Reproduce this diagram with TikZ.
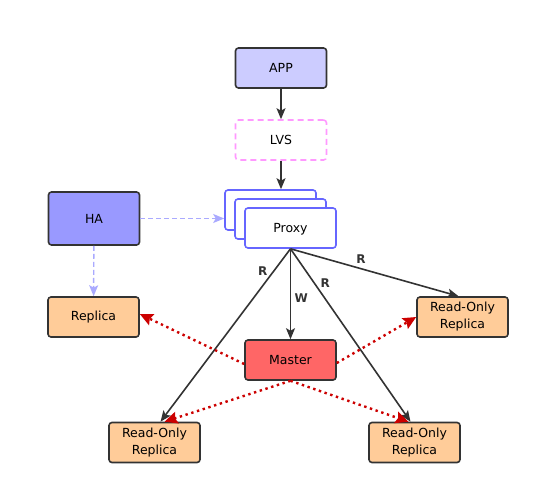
\documentclass[tikz,border=0pt]{standalone}
\usepackage{fontspec}
\setmainfont{DejaVu Sans}
\usetikzlibrary{arrows.meta}

\definecolor{lineGray}{HTML}{333333}
\definecolor{appFill}{HTML}{CCCCFF}
\definecolor{lvsPink}{HTML}{FF99FF}
\definecolor{proxyBlue}{HTML}{6666FF}
\definecolor{haFill}{HTML}{9999FF}
\definecolor{haLine}{HTML}{AAAAFF}
\definecolor{replFill}{HTML}{FFCC99}
\definecolor{masterFill}{HTML}{FF6666}
\definecolor{syncRed}{HTML}{CC0000}

\begin{document}
\begin{tikzpicture}[
                    x=1pt, y=-1pt,
                    >={Stealth[length=11pt,width=9pt,inset=2.5pt]},
                    font=\fontsize{12.5}{17}\selectfont,
                    box/.style={draw=lineGray, line width=1.6pt, rounded corners=3pt,
                                minimum width=91pt, minimum height=40pt,
                                align=center, inner sep=1pt},
                    proxybox/.style={box, draw=proxyBlue, fill=white},
                    flow/.style={->, draw=lineGray, line width=1.6pt},
                    hblink/.style={->, draw=haLine, line width=1.4pt,
                                   dash pattern=on 5pt off 3pt},
                    sync/.style={-{Stealth[length=13pt,width=12pt,inset=2pt]},
                                 draw=syncRed, line width=2.4pt,
                                 dash pattern=on 2.4pt off 3.6pt},
                    rw/.style={font=\fontsize{12}{14}\selectfont\bfseries, text=lineGray},
                ]
                \useasboundingbox (0,0) rectangle (540,495);

                \node[box,fill=appFill] (app) at (281,68) {APP} ;
                \node[box,draw=lvsPink,dash pattern=on 6pt off 4pt] (lvs) at (281,140) {LVS} ;

                \node[proxybox] (proxyc) at (270.5,210) {} ;
                \node[proxybox] (proxyb) at (280.5,219) {} ;
                \node[proxybox,text depth=-3pt] (proxy) at (290.5,228) {Proxy} ;

                \node[box,fill=haFill,minimum height=53pt] (ha) at (94,218.5) {HA} ;
                \node[box,fill=replFill] (rep) at (93.5,317) {Replica} ;
                \node[box,fill=masterFill] (master) at (290.5,360) {Master} ;

                \node[box,fill=replFill] (ror) at (462.5,317) {Read-Only\\Replica} ;
                \node[box,fill=replFill] (robl) at (154.5,442.5) {Read-Only\\Replica} ;
                \node[box,fill=replFill] (robr) at (414.5,442.5) {Read-Only\\Replica} ;

                % request path
                \draw[flow] (app) -- (lvs) ;
                \draw[flow] (lvs.south) -- (lvs.south |- proxyc.north) ;

                % HA
                \draw[hblink] (ha.east) -- (ha.east -| proxyc.west) ;
                \draw[hblink] (ha) -- (rep) ;

                % read / write split
                \draw[flow] (proxy.south) -- node[rw,pos=0.55,right] {W} (master.north) ;
                \draw[flow] (proxy.south) -- node[rw,pos=0.13,left=2pt] {R} ([xshift=6pt]robl.north) ;
                \draw[flow] (proxy.south) -- node[rw,pos=0.2,right=2pt] {R} ([xshift=-4pt]robr.north) ;
                \draw[flow] (proxy.south) -- node[rw,pos=0.42,above=1pt] {R} ([xshift=-4pt]ror.north) ;

                % replication
                \draw[sync] ([yshift=-4pt]master.west) -- ([yshift=3pt]rep.east) ;
                \draw[sync] ([yshift=-3pt]master.east) -- (ror.west) ;
                \draw[sync] (master.south) -- ([xshift=10pt]robl.north) ;
                \draw[sync] (master.south) -- ([xshift=-6pt]robr.north) ;
            \end{tikzpicture}
\end{document}
